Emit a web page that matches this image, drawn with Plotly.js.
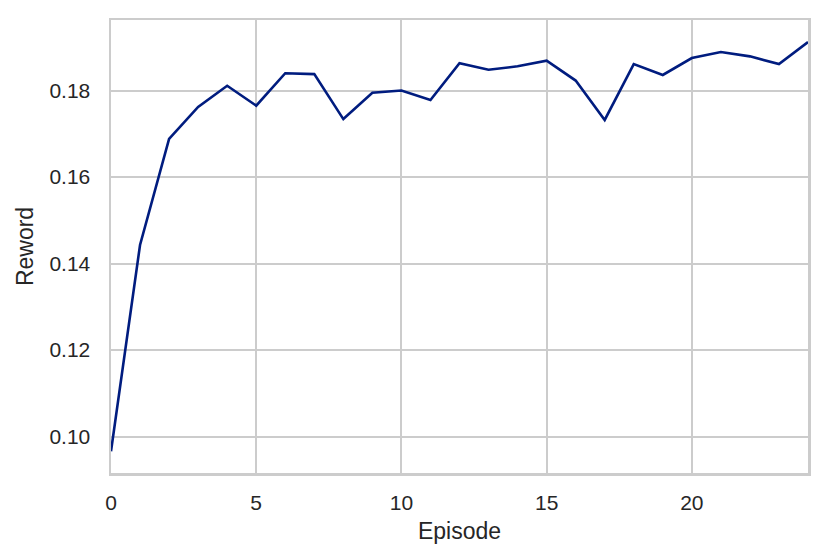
<!DOCTYPE html>
<html>
<head>
<meta charset="utf-8">
<script src="https://cdn.plot.ly/plotly-3.0.1.min.js"></script>
<style>html,body{margin:0;padding:0;background:#fff;}#chart{width:829px;height:560px;}</style>
</head>
<body>
<div id="chart"></div>
<script>
const episodes = [0,1,2,3,4,5,6,7,8,9,10,11,12,13,14,15,16,17,18,19,20,21,22,23,24];
const reward = [0.0966,0.1443,0.1688,0.1762,0.1811,0.1765,0.1840,0.1838,0.1734,0.1795,0.1800,0.1778,0.1863,0.1848,0.1856,0.1869,0.1823,0.1732,0.1861,0.1836,0.1875,0.1889,0.1879,0.1861,0.1912];
const xTicks = [0,5,10,15,20];
const yTicks = [0.10,0.12,0.14,0.16,0.18];
const yTickText = ["0.10","0.12","0.14","0.16","0.18"];

const trace = {
  x: episodes, y: reward, type: 'scatter', mode: 'lines',
  line: {color: '#001c7f', width: 2.6}, hoverinfo: 'skip'
};
const font = {family: 'Liberation Sans, Arial, sans-serif', color: '#262626', size: 21};
const layout = {
  width: 829, height: 560,
  margin: {l: 111, r: 21, t: 20, b: 87},
  paper_bgcolor: '#fff', plot_bgcolor: '#fff',
  showlegend: false,
  font: font,
  xaxis: {
    range: [0, 24], tickvals: xTicks, ticks: 'outside', ticklen: 9, tickcolor: 'rgba(0,0,0,0)',
    showgrid: true, gridcolor: '#cccccc', gridwidth: 2,
    zeroline: false, showline: true, mirror: true, linecolor: '#cccccc', linewidth: 2.5,
    tickfont: {size: 21}, title: {text: 'Episode', font: {size: 23}, standoff: 10}
  },
  yaxis: {
    range: [0.0916, 0.1963], tickvals: yTicks, ticktext: yTickText,
    ticks: 'outside', ticklen: 14, tickcolor: 'rgba(0,0,0,0)',
    showgrid: true, gridcolor: '#cccccc', gridwidth: 2,
    zeroline: false, showline: true, mirror: true, linecolor: '#cccccc', linewidth: 2.5,
    tickfont: {size: 21}, title: {text: 'Reword', font: {size: 23}, standoff: 10}
  }
};
Plotly.newPlot('chart', [trace], layout, {displayModeBar: false, staticPlot: true});
</script>
</body>
</html>
